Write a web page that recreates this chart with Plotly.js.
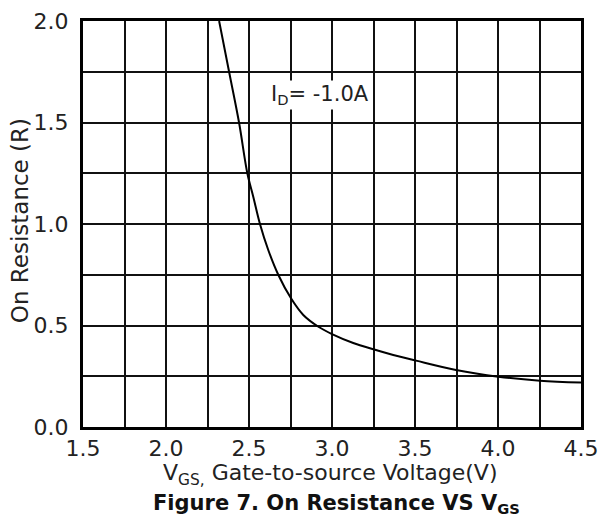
<!DOCTYPE html>
<html>
<head>
<meta charset="utf-8">
<script src="https://cdn.plot.ly/plotly-3.0.1.min.js"></script>
<style>
html,body{margin:0;padding:0;background:#fff;}
#chart{width:600px;height:528px;}
</style>
</head>
<body>
<div id="chart"></div>
<script>
// Data
const vgs = [2.32, 2.38, 2.44, 2.49, 2.526, 2.566, 2.616, 2.677, 2.753, 2.827, 2.918, 3.0, 3.128, 3.249, 3.369, 3.506, 3.747, 4.002, 4.253, 4.5];
const rOn = [2.0, 1.75, 1.5, 1.25, 1.133, 1.0, 0.872, 0.749, 0.634, 0.552, 0.494, 0.458, 0.414, 0.383, 0.355, 0.327, 0.281, 0.248, 0.228, 0.219];
const xTickVals = [1.5, 2.0, 2.5, 3.0, 3.5, 4.0, 4.5];
const xTickText = ["1.5", "2.0", "2.5", "3.0", "3.5", "4.0", "4.5"];
const yTickVals = [0.0, 0.5, 1.0, 1.5, 2.0];
const yTickText = ["0.0", "0.5", "1.0", "1.5", "2.0"];
const labelText = "I<sub>D</sub>= -1.0A";
const xTitle = "V<sub>GS,</sub> Gate-to-source Voltage(V)";
const yTitle = "On Resistance (R)";
const caption = "<b>Figure 7. On Resistance VS V<sub>GS</sub></b>";

const font = "DejaVu Sans, Arial, sans-serif";
const txtColor = "#222";

const trace = {
  x: vgs, y: rOn, type: "scatter", mode: "lines",
  line: {color: "#000", width: 2, shape: "spline", smoothing: 1},
  hoverinfo: "skip", showlegend: false
};

const axisCommon = {
  showline: true, mirror: true, linecolor: "#000", linewidth: 3,
  showgrid: true, gridcolor: "#111", gridwidth: 2,
  zeroline: false, ticks: "", fixedrange: true,
  tickfont: {family: font, size: 22, color: txtColor},
  tickmode: "array"
};

const layout = {
  width: 600, height: 528,
  margin: {l: 83, r: 19, t: 21, b: 101},
  paper_bgcolor: "#fff", plot_bgcolor: "#fff",
  showlegend: false,
  xaxis: Object.assign({}, axisCommon, {
    range: [1.5, 4.5], tickvals: xTickVals, ticktext: xTickText,
    minor: {dtick: 0.25, showgrid: true, gridcolor: "#111", gridwidth: 2, ticks: ""},
    ticklabelstandoff: 0
  }),
  yaxis: Object.assign({}, axisCommon, {
    range: [0, 2.0], tickvals: yTickVals, ticktext: yTickText,
    minor: {dtick: 0.25, showgrid: true, gridcolor: "#111", gridwidth: 2, ticks: ""},
    ticklabelstandoff: 7
  }),
  annotations: [
    {text: labelText, xref: "x", yref: "y", x: 2.928, y: 1.635, showarrow: false,
     bgcolor: "#fff", borderpad: 1, font: {family: font, size: 21, color: txtColor}},
    {text: xTitle, xref: "paper", yref: "paper", x: 0.496, y: -0.118, showarrow: false,
     xanchor: "center", yanchor: "middle", font: {family: font, size: 22, color: txtColor}},
    {text: caption, xref: "paper", yref: "paper", x: 0.509, y: -0.19, showarrow: false,
     xanchor: "center", yanchor: "middle", font: {family: font, size: 21, color: "#111"}},
    {text: yTitle, xref: "paper", yref: "paper", x: -0.1265, y: 0.507, showarrow: false,
     textangle: -90, xanchor: "center", yanchor: "middle", font: {family: font, size: 23, color: txtColor}}
  ]
};

Plotly.newPlot("chart", [trace], layout, {staticPlot: true, displayModeBar: false});
</script>
</body>
</html>
